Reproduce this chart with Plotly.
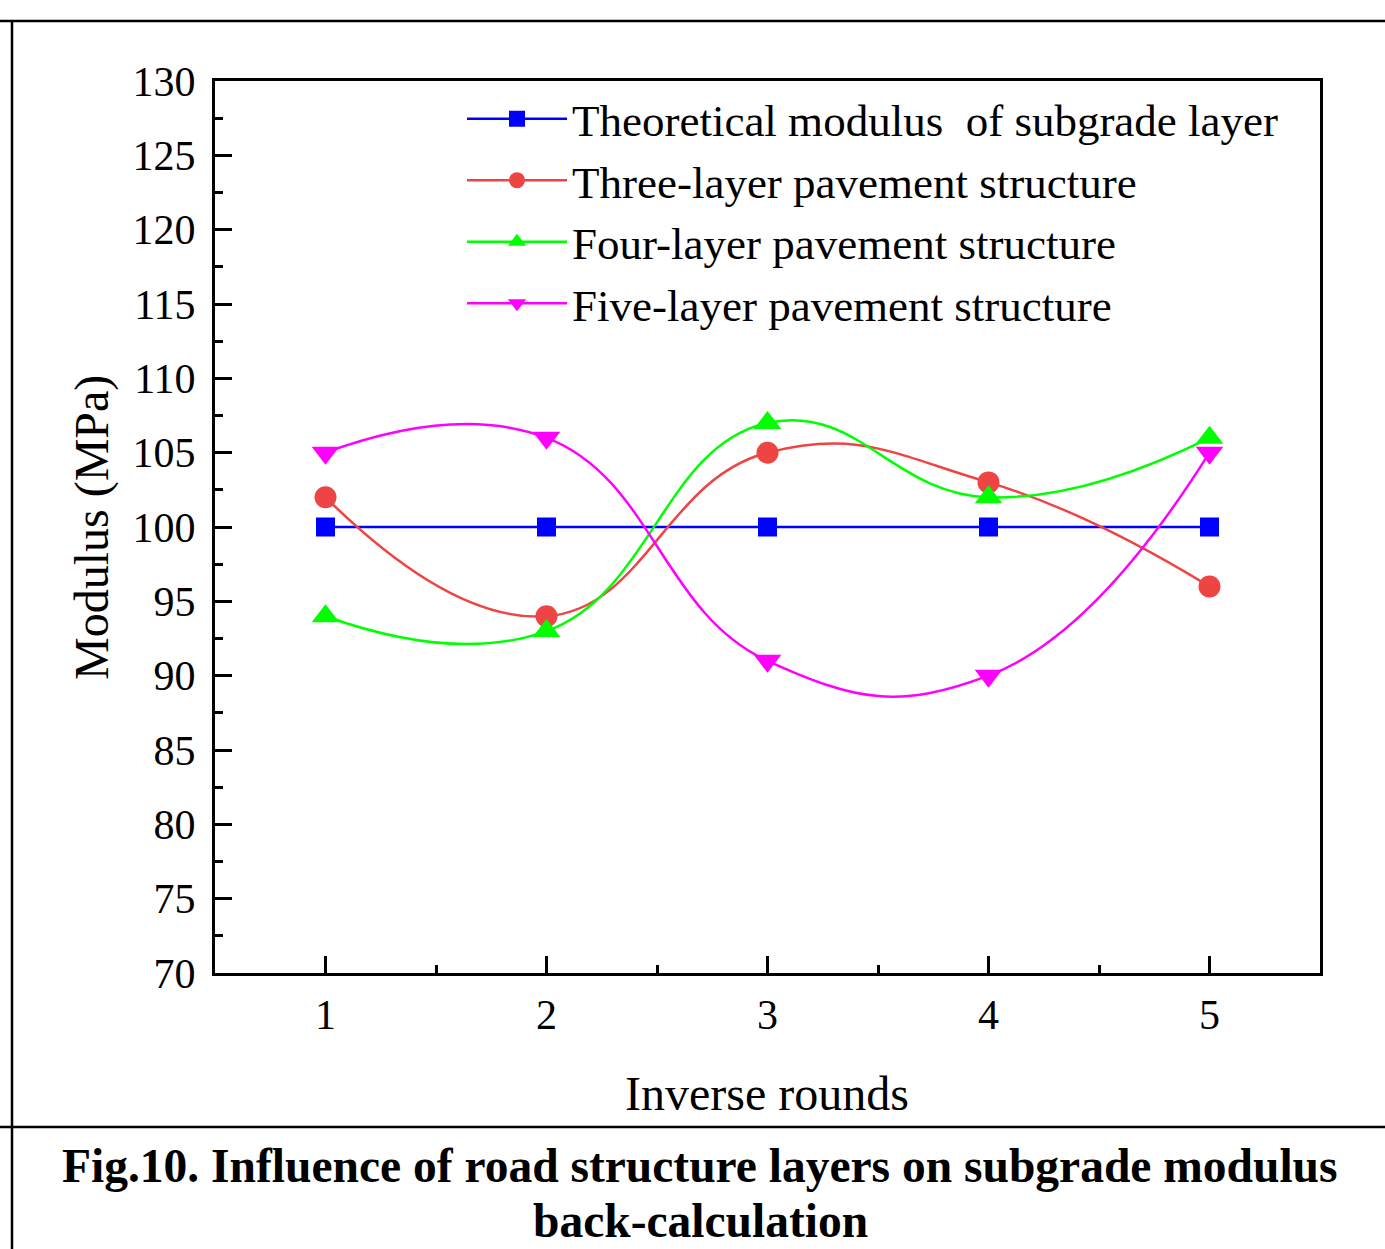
import plotly.graph_objects as go

rounds = [1, 2, 3, 4, 5]
theoretical = [100, 100, 100, 100, 100]
three_layer = [102, 94, 105, 103, 96]
four_layer = [94, 93, 107, 102, 106]
five_layer = [105, 106, 91, 90, 105]

names = ["Theoretical modulus  of subgrade layer", "Three-layer pavement structure",
         "Four-layer pavement structure", "Five-layer pavement structure"]
colors = ["#0000FF", "#EE4444", "#00FF00", "#FF00FF"]
symbols = ["square", "circle", "triangle-up", "triangle-down"]
sizes = [19, 22, 24, 24]
series = [theoretical, three_layer, four_layer, five_layer]

FONT = "Liberation Serif, Times New Roman, serif"
W, H = 1385, 1249
L, R, T, B = 215, 1320, 81, 973

def px(x):
    return (x - L) / (R - L)

def py(y):
    return (B - y) / (B - T)

fig = go.Figure()
for nm, c, s, sz, ys in zip(names, colors, symbols, sizes, series):
    fig.add_trace(go.Scatter(
        x=rounds, y=ys, name=nm, mode="lines+markers",
        line=dict(color=c, width=2.5, shape="spline", smoothing=1.3),
        marker=dict(symbol=s, size=sz, color=c),
    ))

axis_common = dict(
    showline=True, linecolor="black", linewidth=3, mirror=True,
    ticks="inside", ticklen=17, tickwidth=2.5, tickcolor="black",
    showgrid=False, zeroline=False,
    tickfont=dict(family=FONT, size=42, color="black"),
)

fig.update_xaxes(range=[0.5, 5.5], tickmode="linear", tick0=1, dtick=1,
                 minor=dict(ticks="inside", ticklen=8, tickwidth=2.5, tickcolor="black", dtick=0.5, tick0=0.5),
                 ticklabelstandoff=3, **axis_common)
fig.update_yaxes(range=[70, 130], tickmode="linear", tick0=70, dtick=5,
                 minor=dict(ticks="inside", ticklen=8, tickwidth=2.5, tickcolor="black", dtick=2.5),
                 ticklabelstandoff=8, **axis_common)

shapes = [
    dict(type="line", xref="paper", yref="paper", x0=px(0), x1=px(W), y0=py(21), y1=py(21),
         line=dict(color="black", width=2.5)),
    dict(type="line", xref="paper", yref="paper", x0=px(0), x1=px(W), y0=py(1127), y1=py(1127),
         line=dict(color="black", width=2.5)),
    dict(type="line", xref="paper", yref="paper", x0=px(12), x1=px(12), y0=py(21), y1=py(H),
         line=dict(color="black", width=2.5)),
]

annotations = [
    dict(text="Inverse rounds", xref="paper", yref="paper", x=px(767), y=py(1093),
         showarrow=False, font=dict(family=FONT, size=48, color="black"), xanchor="center", yanchor="middle"),
    dict(text="Modulus (MPa)", xref="paper", yref="paper", x=px(92), y=py(528),
         showarrow=False, textangle=-90, font=dict(family=FONT, size=48, color="black"),
         xanchor="center", yanchor="middle"),
    dict(text="<b>Fig.10. Influence of road structure layers on subgrade modulus</b>", xref="paper", yref="paper",
         x=px(700), y=py(1166), showarrow=False, font=dict(family=FONT, size=47.5, color="black"),
         xanchor="center", yanchor="middle"),
    dict(text="<b>back-calculation</b>", xref="paper", yref="paper",
         x=px(700), y=py(1221), showarrow=False, font=dict(family=FONT, size=47.5, color="black"),
         xanchor="center", yanchor="middle"),
]

fig.update_layout(
    width=W, height=H,
    margin=dict(l=L, r=W - R, t=T, b=H - B, pad=0),
    paper_bgcolor="white", plot_bgcolor="white",
    font=dict(family=FONT, color="black"),
    showlegend=True,
    legend=dict(x=px(462), y=py(83), xanchor="left", yanchor="top",
                bgcolor="rgba(0,0,0,0)", borderwidth=0,
                font=dict(family=FONT, size=45, color="black"),
                itemwidth=100, tracegroupgap=0),
    shapes=shapes, annotations=annotations,
)

fig.write_html("out.html")
